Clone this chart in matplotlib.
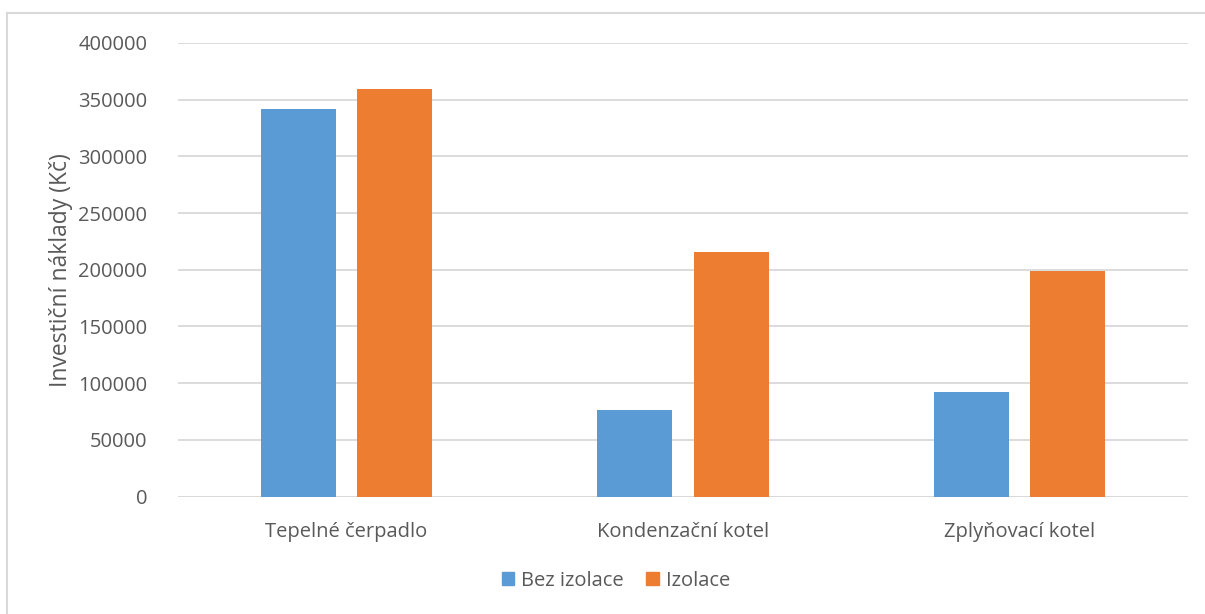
import matplotlib.pyplot as plt
import numpy as np
from matplotlib.patches import Rectangle
from matplotlib.lines import Line2D

categories = ["Tepelné čerpadlo", "Kondenzační kotel", "Zplyňovací kotel"]
bez_izolace = [342000, 76500, 92000]
izolace = [359500, 216000, 199000]
series_names = ["Bez izolace", "Izolace"]
y_ticks = [0, 50000, 100000, 150000, 200000, 250000, 300000, 350000, 400000]

BLUE = "#5B9BD5"
ORANGE = "#ED7D31"
TEXT = "#595959"
GRID = "#D9D9D9"

plt.rcParams["font.family"] = ["Open Sans", "DejaVu Sans"]

fig = plt.figure(figsize=(12.05, 6.14), dpi=100)
ax = fig.add_axes([0.1477, 0.1912, 0.986 - 0.1477, 0.93 - 0.1912])

x = np.arange(len(categories))
w = 0.223
off = 0.143
ax.bar(x - off, bez_izolace, width=w, color=BLUE, label=series_names[0], zorder=3)
ax.bar(x + off, izolace, width=w, color=ORANGE, label=series_names[1], zorder=3)

ax.set_xlim(-0.5, len(categories) - 0.5)
ax.set_ylim(0, 400000)
ax.set_yticks(y_ticks)
ax.set_yticklabels([str(v) for v in y_ticks])
ax.set_xticks(x)
ax.set_xticklabels(categories)
ax.tick_params(axis="both", length=0, labelsize=14.5, colors=TEXT)
ax.tick_params(axis="y", pad=22)
ax.tick_params(axis="x", pad=18)
ax.grid(axis="y", color=GRID, linewidth=1.3, zorder=0)
for s in ax.spines.values():
    s.set_visible(False)
ax.axhline(0, color=GRID, linewidth=1.3, zorder=2)

ax.set_ylabel("Investiční náklady (Kč)", fontsize=16.5, color=TEXT, labelpad=4)

handles = [Rectangle((0, 0), 1, 1, color=BLUE), Rectangle((0, 0), 1, 1, color=ORANGE)]
fig.legend(handles, series_names, loc="center", bbox_to_anchor=(616 / 1205, 1 - 581 / 614),
           ncol=2, frameon=False, fontsize=14.5, labelcolor=TEXT,
           handlelength=0.62, handleheight=0.62, handletextpad=0.35, columnspacing=1.1)

# chart area border (left and top edges fall inside the canvas)
fig.add_artist(Line2D([7.5 / 1205, 7.5 / 1205], [0, 1 - 13 / 614], color=GRID, linewidth=1.5,
                      transform=fig.transFigure))
fig.add_artist(Line2D([7.5 / 1205, 1], [1 - 13 / 614, 1 - 13 / 614], color=GRID, linewidth=1.5,
                      transform=fig.transFigure))

fig.savefig("out.png", dpi=100)
